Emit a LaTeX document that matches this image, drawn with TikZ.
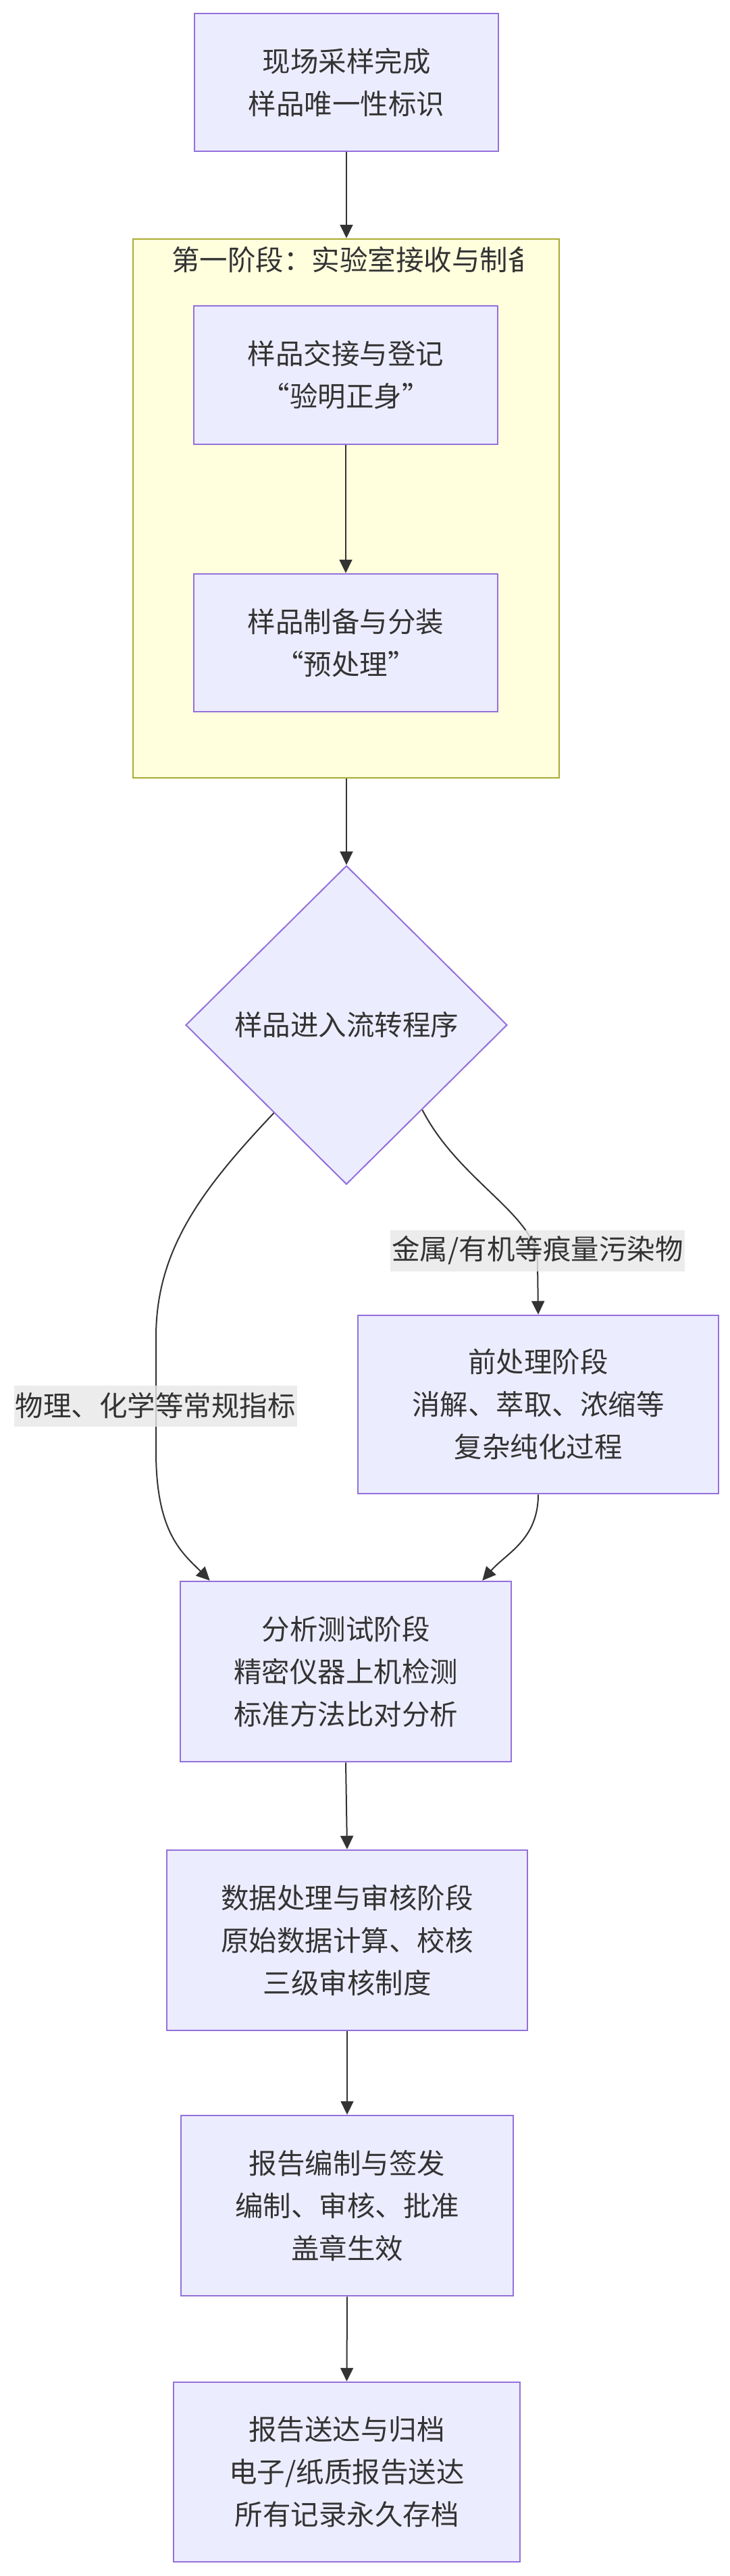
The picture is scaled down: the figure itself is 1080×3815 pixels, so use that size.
\documentclass[tikz,border=0pt]{standalone}
\usepackage{fontspec}
\setmainfont{Noto Sans CJK SC}
\usetikzlibrary{arrows.meta,shapes.geometric,calc}
\definecolor{nodefill}{HTML}{ECECFF}
\definecolor{nodeline}{HTML}{9370DB}
\definecolor{clfill}{HTML}{FFFFDE}
\definecolor{clline}{HTML}{AAAA33}
\definecolor{txt}{HTML}{333333}
\definecolor{lblbg}{HTML}{E8E8E8}
\begin{document}
\begin{tikzpicture}[x=1pt,y=-1pt,
  bigfont/.style={font=\fontsize{41.5pt}{63pt}\selectfont},
  box/.style={draw=nodeline, fill=nodefill, line width=2.5pt, inner sep=0pt, align=center, text=txt, bigfont},
  cluster/.style={draw=clline, fill=clfill, line width=2.5pt, inner sep=0pt},
  edge/.style={draw=txt, line width=2pt, -{Triangle[length=20pt,width=19pt]}},
  elabel/.style={fill=lblbg, fill opacity=0.8, text opacity=1, text=txt, inner xsep=2pt, inner ysep=0pt, minimum height=61pt, bigfont}
]
\path[fill=white, use as bounding box] (0,0) rectangle (1080,3815);

% cluster
\node[cluster, minimum width=631pt, minimum height=798pt] (cl) at (512.5,753) {};
\begin{scope}
  \clip (197,354) rectangle (773,430);
  \node[anchor=west, text=txt, inner sep=0pt, bigfont] (cltitle) at (254,385) {第一阶段：实验室接收与制备};
\end{scope}

% nodes
\node[box, minimum width=450pt, minimum height=204pt] (b1) at (513,122) {现场采样完成\\样品唯一性标识};
\node[box, minimum width=450pt, minimum height=205pt] (b2) at (512,555.5) {样品交接与登记\\“验明正身”};
\node[box, minimum width=450pt, minimum height=204pt] (b3) at (512,952) {样品制备与分装\\“预处理”};
\node[diamond, draw=nodeline, fill=nodefill, line width=2pt, inner sep=0pt, minimum width=476pt, minimum height=472pt, text=txt, bigfont] (dia) at (513,1518) {样品进入流转程序};
\node[box, minimum width=534pt, minimum height=264pt] (pre) at (797,2080) {前处理阶段\\消解、萃取、浓缩等\\复杂纯化过程};
\node[box, minimum width=490pt, minimum height=267pt] (ana) at (512,2475.5) {分析测试阶段\\精密仪器上机检测\\标准方法比对分析};
\node[box, minimum width=534pt, minimum height=267pt] (dat) at (514,2873.5) {数据处理与审核阶段\\原始数据计算、校核\\三级审核制度};
\node[box, minimum width=492pt, minimum height=267pt] (rep) at (514,3266.5) {报告编制与签发\\编制、审核、批准\\盖章生效};
\node[box, minimum width=513pt, minimum height=266pt] (arc) at (513.5,3661) {报告送达与归档\\电子/纸质报告送达\\所有记录永久存档};

% edges
\draw[edge] (b1.south) -- (b1.south |- cl.north);
\draw[edge] (b2.south) -- (b3.north);
\draw[edge] (cl.south -| dia.north) -- (dia.north);
\draw[edge] ($(dia.west)!0.55!(dia.south)$) .. controls (300,1760) and (231,1850) .. (231,1980) -- (231,2150) .. controls (231,2270) and (270,2300) .. ($(ana.north west)+(45,0)$);
\draw[edge] ($(dia.east)!0.53!(dia.south)$) .. controls (680,1750) and (796,1800) .. (796,1870) -- (pre.north);
\draw[edge] (pre.south) .. controls (797,2280) and (750,2300) .. ($(ana.north east)+(-44,0)$);
\draw[edge] (ana.south) -- (dat.north);
\draw[edge] (dat.south) -- (rep.north);
\draw[edge] (rep.south) -- (arc.north);

% edge labels
\node[elabel] (lblL) at (230,2082) {物理、化学等常规指标};
\node[elabel] (lblR) at (796,1852) {金属/有机等痕量污染物};
\end{tikzpicture}
\end{document}
